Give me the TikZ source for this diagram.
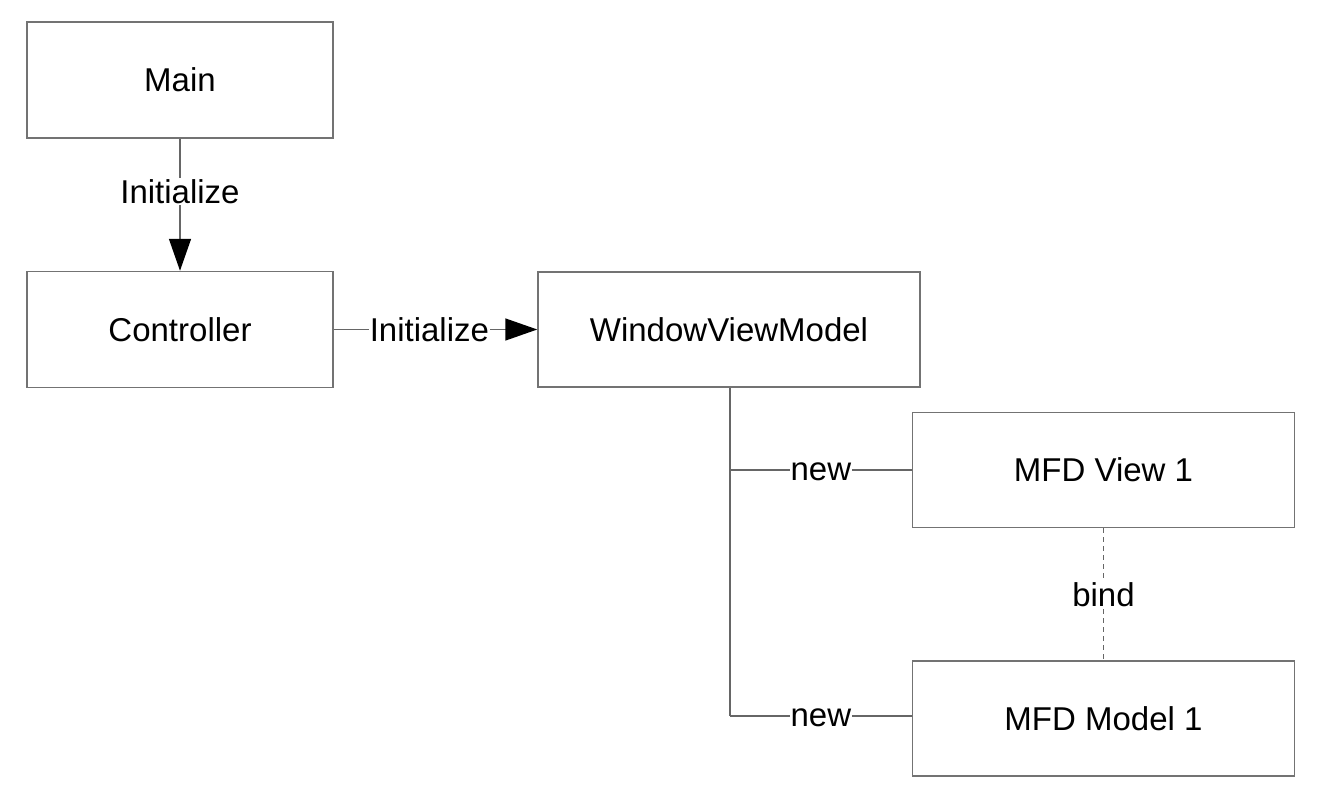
\documentclass[tikz,border=0pt]{standalone}
\usepackage{fontspec}
\setmainfont{Liberation Sans}
\usetikzlibrary{arrows.meta}
\begin{document}
\begin{tikzpicture}[x=1pt,y=-1pt,
  box/.style={draw=gray!90!black, line width=1.5pt, fill=white, minimum width=306pt, minimum height=116pt, inner sep=0pt, font=\fontsize{33}{40}\selectfont},
  wbox/.style={box, minimum width=382pt, minimum height=115pt},
  conn/.style={draw=gray!80!black, line width=1.5pt},
  lbl/.style={fill=white, inner sep=1pt, font=\fontsize{33}{40}\selectfont},
  tip/.style={-{Triangle[length=32pt,width=22pt,color=black]}}]
\useasboundingbox[fill=white] (0,0) rectangle (1320,800);
\node[box] (main) at (180,80) {Main};
\node[box] (ctrl) at (180,329.5) {Controller};
\node[wbox] (wvm) at (729,329.5) {WindowViewModel};
\node[wbox] (view) at (1103.5,470) {MFD View 1};
\node[wbox] (model) at (1103.5,718.5) {MFD Model 1};
\coordinate (b1) at (730,470);
\coordinate (b2) at (730,716);
\draw[conn, tip] (main.south) -- (ctrl.north) node[lbl, pos=0.4] {Initialize};
\draw[conn, tip] (ctrl.east) -- (wvm.west) node[lbl, pos=0.47] {Initialize};
\draw[conn] (wvm.south -| b1) -- (b2);
\draw[conn] (b1) -- (b1 -| view.west) node[lbl, midway, yshift=-2pt] {new};
\draw[conn] (b2) -- (b2 -| model.west) node[lbl, midway, yshift=-2pt] {new};
\draw[conn, dashed, dash pattern=on 5pt off 4pt] (view.south) -- (model.north) node[lbl, midway] {bind};
\end{tikzpicture}
\end{document}
